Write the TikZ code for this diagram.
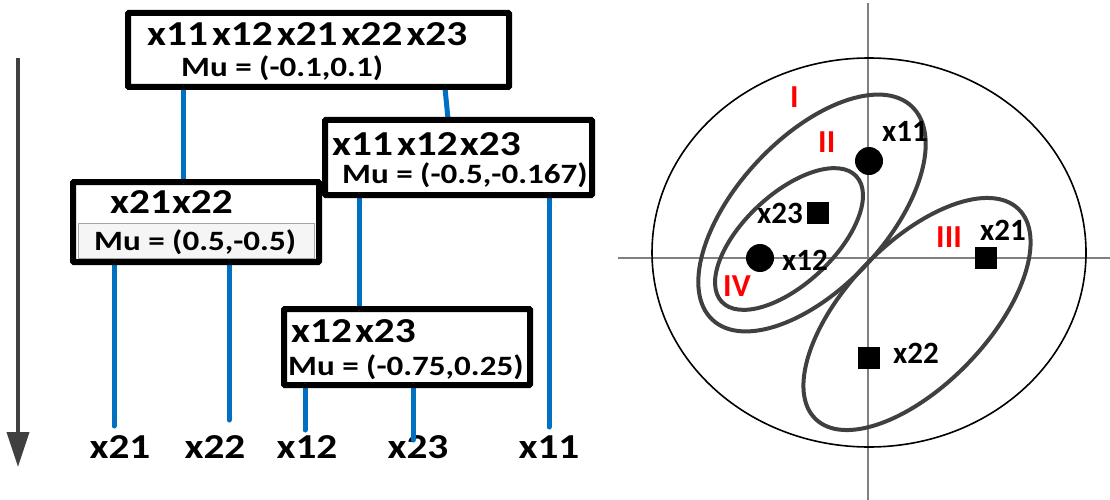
\documentclass[tikz,border=0pt]{standalone}
\usepackage{fontspec}
\newfontfamily\lfont[FakeStretch=1.18]{Carlito}
\newfontfamily\rfont{Carlito}
\usetikzlibrary{calc,arrows.meta}
\definecolor{lblue}{HTML}{0070C0}
\definecolor{dgray}{HTML}{404040}
\tikzset{
  box/.style={draw=black, line width=4pt, rounded corners=1.5pt, fill=white, inner sep=0pt},
  big/.style={font=\lfont\bfseries\fontsize{35}{40}\selectfont, inner sep=0pt, anchor=base west},
  mu/.style={font=\lfont\bfseries\fontsize{28}{32}\selectfont, inner sep=0pt, anchor=base west},
  leaf/.style={font=\lfont\bfseries\fontsize{35}{40}\selectfont, inner sep=0pt, anchor=base},
  link/.style={draw=lblue, line width=5pt, line cap=round},
  pt/.style={font=\rfont\bfseries\fontsize{31}{36}\selectfont, inner sep=0pt, anchor=base west},
  roman/.style={font=\rfont\bfseries\fontsize{32}{36}\selectfont, text=red, inner sep=0pt, anchor=base west},
  axis/.style={draw=gray, line width=1.3pt},
  clus/.style={draw=dgray, line width=4pt},
  dot/.style={circle, fill=black, minimum size=28pt, inner sep=0pt},
  sq/.style={rectangle, fill=black, minimum size=22pt, inner sep=0pt}
}
\begin{document}
\begin{tikzpicture}[x=1pt,y=-1pt]
\useasboundingbox (0,0) rectangle (1110,500);
% time arrow
\coordinate (as) at (18,58);
\coordinate (ae) at (18,467);
\draw[draw=dgray, line width=4pt, -{Triangle[length=35pt,width=22pt]}] (as) -- (ae);
% boxes
\node[box, minimum width=379pt, minimum height=72pt] (top) at (318.5,50) {};
\node[box, minimum width=265pt, minimum height=73pt] (b2) at (458.5,157.5) {};
\node[box, minimum width=244pt, minimum height=78pt] (b3) at (196,222) {};
\node[draw=gray!70, line width=1pt, fill=gray!8, minimum width=236pt, minimum height=35pt, inner sep=0pt] (b3in) at (196,241) {};
\node[box, minimum width=244pt, minimum height=74pt] (b4) at (407,347) {};
% box texts
\node[big] (t1) at (147,46) {x11\hspace{4pt}x12\hspace{4pt}x21\hspace{4pt}x22\hspace{4pt}x23};
\node[mu] (m1) at (181,77) {Mu = (-0.1,0.1)};
\node[big] (t2) at (332,155) {x11\hspace{4pt}x12\hspace{2pt}x23};
\node[mu] (m2) at (342,183) {Mu = (-0.5,-0.167)};
\node[big] (t3) at (110,213) {x21\hspace{1pt}x22};
\node[mu] (m3) at (94,250) {Mu = (0.5,-0.5)};
\node[big] (t4) at (291,342) {x12\hspace{3pt}x23};
\node[mu] (m4) at (288,375) {Mu = (-0.75,0.25)};
% leaves
\node[leaf] (l21) at (120,458) {x21};
\node[leaf] (l22) at (215,458) {x22};
\node[leaf] (l12) at (307,458) {x12};
\node[leaf] (l23) at (418,458) {x23};
\node[leaf] (l11) at (549,458) {x11};
% connector endpoints
\coordinate (c1a) at (183,88);  \coordinate (c1b) at (183,181);
\coordinate (c2a) at (445,88);  \coordinate (c2b) at (448,119);
\coordinate (c3a) at (359,196); \coordinate (c3b) at (359,308);
\coordinate (c4a) at (549,196); \coordinate (c4b) at (549,427);
\coordinate (c5a) at (114,263); \coordinate (c5b) at (114,426);
\coordinate (c6a) at (229,263); \coordinate (c6b) at (229,420);
\coordinate (c7a) at (305,386); \coordinate (c7b) at (305,430);
\coordinate (c8a) at (413,386); \coordinate (c8b) at (413,440);
\draw[link] (c1a) -- (c1b);
\draw[link] (c2a) -- (c2b);
\draw[link] (c3a) -- (c3b);
\draw[link] (c4a) -- (c4b);
\draw[link] (c5a) -- (c5b);
\draw[link] (c6a) -- (c6b);
\draw[link] (c7a) -- (c7b);
\draw[link] (c8a) -- (c8b);
% redraw box borders over links
\draw[box, fill=none] (top.south west) rectangle (top.north east);
\draw[box, fill=none] (b2.south west) rectangle (b2.north east);
\draw[box, fill=none] (b3.south west) rectangle (b3.north east);
\draw[box, fill=none] (b4.south west) rectangle (b4.north east);
% right panel
\coordinate (hx0) at (618,258); \coordinate (hx1) at (1110,258);
\coordinate (vy0) at (868,3);   \coordinate (vy1) at (868,500);
\draw[axis] (hx0) -- (hx1);
\draw[axis] (vy0) -- (vy1);
\draw[line width=1.6pt] (869,252.5) ellipse [x radius=217, y radius=194.5];
\draw[clus, rotate around={47:(812,213)}] (812,213) ellipse [x radius=146, y radius=75];
\draw[clus, rotate around={43:(789,239)}] (789,239) ellipse [x radius=92, y radius=45];
\draw[clus, rotate around={46:(917,314)}] (917,314) ellipse [x radius=146, y radius=71];
% points
\node[dot] (p11) at (869,161) {};
\node[dot] (p12) at (760,258) {};
\node[sq] (p23) at (818,213) {};
\node[sq] (p21) at (986,258) {};
\node[sq] (p22) at (869,358) {};
\node[pt] (n11) at (882,142) {x11};
\node[pt] (n23) at (757,223) {x23};
\node[pt] (n12) at (782,270) {x12};
\node[pt] (n21) at (980,240) {x21};
\node[pt] (n22) at (893,363) {x22};
\node[roman] (r1) at (790,108) {I};
\node[roman] (r2) at (818,152) {II};
\node[roman] (r3) at (936,247) {III};
\node[roman] (r4) at (723,296) {IV};
\end{tikzpicture}
\end{document}
